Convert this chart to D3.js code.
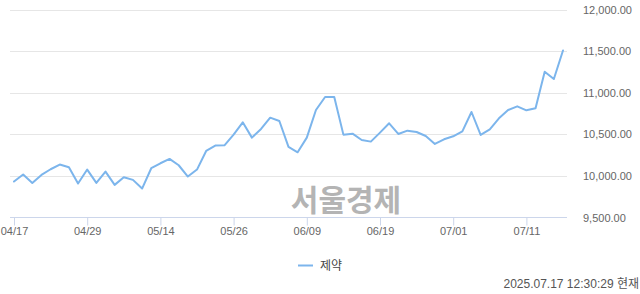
<!DOCTYPE html>
<html><head><meta charset="utf-8">
<script src="https://cdn.jsdelivr.net/npm/d3@7"></script>
<style>body{margin:0;background:#fff}svg{display:block}</style>
</head><body><svg id="c" width="640" height="294"></svg>
<script>
const dates = ["04/17","04/18","04/21","04/22","04/23","04/24","04/25","04/28","04/29","04/30",
"05/02","05/07","05/08","05/09","05/12","05/13","05/14","05/15","05/16","05/19",
"05/20","05/21","05/22","05/23","05/26","05/27","05/28","05/29","05/30","06/02",
"06/04","06/05","06/09","06/10","06/11","06/12","06/13","06/16","06/17","06/18",
"06/19","06/20","06/23","06/24","06/25","06/26","06/27","06/30","07/01","07/02",
"07/03","07/04","07/07","07/08","07/09","07/10","07/11","07/14","07/15","07/16","07/17"];
const values = [9932,10016,9916,10012,10080,10136,10104,9908,10076,9916,
10052,9892,9984,9952,9848,10092,10152,10204,10128,9992,
10076,10300,10364,10368,10496,10644,10460,10564,10700,10660,
10348,10284,10460,10792,10948,10948,10496,10508,10432,10412,
10520,10632,10504,10544,10528,10480,10384,10440,10476,10536,
10768,10492,10560,10692,10792,10836,10788,10812,11252,11164,11508];
const xTickLabels = ["04/17","04/29","05/14","05/26","06/09","06/19","07/01","07/11"];
const yTicks = [9500,10000,10500,11000,11500,12000];
const seriesName = "제약";
const watermark = "서울경제";
const stamp = "2025.07.17 12:30:29 현재";

const svg = d3.select("#c");
const font = "'Liberation Sans','Noto Sans CJK KR',sans-serif";
const x = d3.scalePoint().domain(dates).range([14, 563]);
const y = d3.scaleLinear().domain([9500, 12000]).range([217.5, 9.5]);
const L = 10, R = 567;

// gridlines
svg.append("g").selectAll("line").data(yTicks.slice(1)).join("line")
  .attr("x1", L).attr("x2", R)
  .attr("y1", d => Math.round(y(d)) + 0.5).attr("y2", d => Math.round(y(d)) + 0.5)
  .attr("stroke", "#e6e6e6");

// watermark
svg.append("text").attr("x", 346).attr("y", 211).attr("text-anchor", "middle")
  .attr("font-family", "'Noto Sans CJK KR',sans-serif").attr("font-weight", "bold")
  .attr("font-size", 30).attr("fill", "#b4b4b4").text(watermark);

// y axis labels (right side)
const ya = svg.append("g").attr("transform", `translate(${R + 16},0)`)
  .call(d3.axisRight(y).tickValues(yTicks).tickSize(0).tickPadding(0)
    .tickFormat(d3.format(",.2f")));
ya.select(".domain").remove();
ya.selectAll("text").attr("font-family", font).attr("font-size", 11).attr("fill", "#666");

// x axis
const xa = svg.append("g").attr("transform", "translate(0,217.5)")
  .call(d3.axisBottom(x).tickValues(xTickLabels).tickSize(8).tickPadding(2));
xa.select(".domain").attr("d", `M${L},0H${R}`).attr("stroke", "#ccd6eb");
xa.selectAll(".tick line").attr("stroke", "#ccd6eb");
xa.selectAll("text").attr("font-family", font).attr("font-size", 11).attr("fill", "#666");

// line
svg.append("path").datum(values)
  .attr("d", d3.line().x((d, i) => x(dates[i])).y(d => y(d)))
  .attr("fill", "none").attr("stroke", "#7cb5ec").attr("stroke-width", 2)
  .attr("stroke-linejoin", "round").attr("stroke-linecap", "round");

// legend
svg.append("line").attr("x1", 298).attr("x2", 313).attr("y1", 265.5).attr("y2", 265.5)
  .attr("stroke", "#7cb5ec").attr("stroke-width", 2);
svg.append("text").attr("x", 320).attr("y", 270).attr("font-family", font)
  .attr("font-size", 12).attr("fill", "#444").text(seriesName);

// timestamp
svg.append("text").attr("x", 639).attr("y", 288).attr("text-anchor", "end")
  .attr("font-family", font).attr("font-size", 12).attr("fill", "#555").text(stamp);
</script></body></html>
